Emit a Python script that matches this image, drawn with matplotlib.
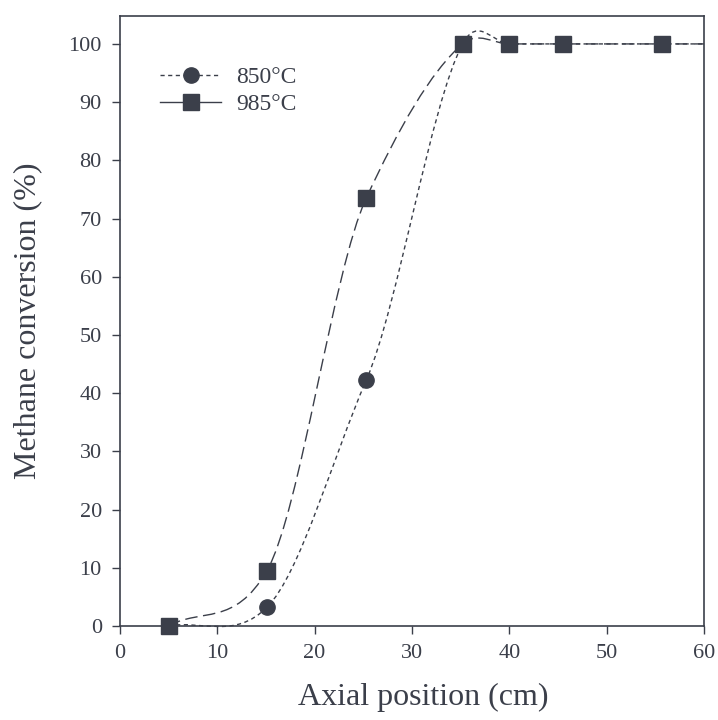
import numpy as np
import matplotlib
matplotlib.use("Agg")
import matplotlib.pyplot as plt
from matplotlib.lines import Line2D
from matplotlib.path import Path
from matplotlib.patches import PathPatch

plt.rcParams["font.family"] = ["Liberation Serif", "DejaVu Serif"]

# Axial position of sampling ports (cm) and methane conversion (%)
pos_850 = [5.0, 15.1, 25.3, 35.2, 40.0, 45.5, 55.7]
conv_850 = [0.0, 3.2, 42.2, 100.0, 100.0, 100.0, 100.0]

pos_985 = [5.0, 15.1, 25.3, 35.2, 40.0, 45.5, 55.7]
conv_985 = [0.0, 9.5, 73.5, 100.0, 100.0, 100.0, 100.0]

x_ticks = [0, 10, 20, 30, 40, 50, 60]
y_ticks = [0, 10, 20, 30, 40, 50, 60, 70, 80, 90, 100]

INK = "#3b3f4a"


def smooth_path(x, y, x_end=60.0, tension=0.2):
    """Cardinal-spline Bezier path through the points, carried level from the
    last point out to x_end."""
    x = np.asarray(x, float)
    y = np.asarray(y, float)
    k = len(x)
    slope = np.empty(k)
    slope[0] = (y[1] - y[0]) / (x[1] - x[0])
    slope[-1] = (y[-1] - y[-2]) / (x[-1] - x[-2])
    slope[1:-1] = (1 - tension) * (y[2:] - y[:-2]) / (x[2:] - x[:-2])
    verts = [(x[0], y[0])]
    codes = [Path.MOVETO]
    for i in range(k - 1):
        h = (x[i + 1] - x[i]) / 3
        verts += [(x[i] + h, y[i] + h * slope[i]),
                  (x[i + 1] - h, y[i + 1] - h * slope[i + 1]),
                  (x[i + 1], y[i + 1])]
        codes += [Path.CURVE4] * 3
    verts.append((x_end, y[-1]))
    codes.append(Path.LINETO)
    return Path(verts, codes)


fig = plt.figure(figsize=(7.18, 7.2), dpi=100)
ax = fig.add_axes([0.167, 0.1306, 0.8135, 0.8472])

# trend curves
ax.add_patch(PathPatch(smooth_path(pos_985, conv_985), fill=False, edgecolor=INK,
                       lw=1.0, linestyle=(0, (9, 4)), clip_on=False, zorder=2))
ax.add_patch(PathPatch(smooth_path(pos_850, conv_850), fill=False, edgecolor=INK,
                       lw=1.0, linestyle=(0, (3, 2.5)), clip_on=False, zorder=2))

# measured points
ax.plot(pos_850, conv_850, "o", color=INK, ms=11, zorder=3, clip_on=False)
ax.plot(pos_985, conv_985, "s", color=INK, ms=11.5, zorder=4, clip_on=False)

ax.set_xlim(0, 60)
ax.set_ylim(0, 104.8)
ax.set_xticks(x_ticks)
ax.set_yticks(y_ticks)
ax.tick_params(direction="out", length=6, width=1, colors=INK,
               labelsize=16, pad=7)
for spine in ax.spines.values():
    spine.set_color(INK)
    spine.set_linewidth(1.2)

ax.set_xlabel("Axial position (cm)", fontsize=23, color=INK, labelpad=14)
ax.set_ylabel("Methane conversion (%)", fontsize=23, color=INK, labelpad=19)
ax.xaxis.label.set_x(0.52)

handles = [
    Line2D([], [], color=INK, lw=1.0, dashes=(3, 2.5), marker="o", ms=11),
    Line2D([], [], color=INK, lw=1.0, marker="s", ms=11.5),
]
ax.legend(handles, ["850°C", "985°C"], loc="upper left",
          bbox_to_anchor=(0.032, 0.952), frameon=False, fontsize=17,
          handlelength=2.6, handletextpad=0.62, labelspacing=0.25,
          labelcolor=INK)

fig.savefig("out.png", dpi=100)
